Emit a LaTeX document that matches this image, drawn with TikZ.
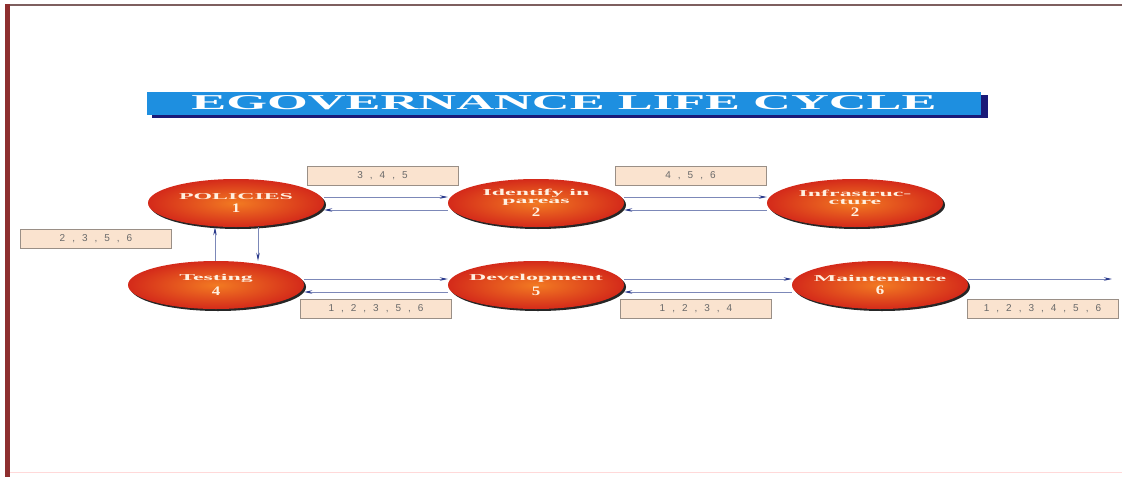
\documentclass[tikz,border=0pt]{standalone}
\usepackage{fontspec}
\usepackage{graphicx}
\setmainfont{Liberation Serif}
\newfontfamily\lblfont[LetterSpace=70]{Liberation Sans}
\usetikzlibrary{arrows.meta,shapes.geometric,shadows}
\definecolor{framered}{HTML}{8E2F2F}
\definecolor{topline}{HTML}{7E5F5F}
\definecolor{titleblue}{HTML}{1E8FE0}
\definecolor{navy}{HTML}{1A1A78}
\definecolor{ered}{HTML}{D42A1A}
\definecolor{eorange}{HTML}{F27A22}
\definecolor{etext}{HTML}{FFF0E0}
\definecolor{peach}{HTML}{FAE3CF}
\definecolor{boxline}{HTML}{9A8F86}
\definecolor{lbltext}{HTML}{6A6A6A}
\definecolor{linec}{HTML}{7C88B8}
\definecolor{tipc}{HTML}{2A3A8C}
\newcommand{\st}[1]{\makebox[0pt]{\scalebox{2.65}[1]{\fontsize{9}{9}\selectfont #1}}}
\newcommand{\dg}[1]{\scalebox{1.3}[1]{\fontsize{13}{13}\selectfont #1}}
\begin{document}
\begin{tikzpicture}[x=1pt,y=-1pt,
  stage/.style={ellipse, minimum width=176pt, minimum height=48pt, inner sep=0pt,
    shading=radial, inner color=eorange, outer color=ered, text=etext,
    align=center, font=\bfseries\fontsize{9}{8}\selectfont,
    general shadow={fill=black!85, shadow xshift=2pt, shadow yshift=-2pt}},
  lbl/.style={draw=boxline, fill=peach, line width=0.8pt, minimum width=151pt,
    minimum height=19pt, inner sep=0pt, text=lbltext, font=\lblfont\fontsize{10}{10}\selectfont},
  conn/.style={draw=linec, line width=0.8pt, -{Stealth[length=8pt,width=3.5pt,color=tipc]}}
]
\useasboundingbox (0,0) rectangle (1122,477);
\fill[white] (0,0) rectangle (1122,477);
% frame
\draw[framered, line width=5pt] (7.5,4) -- (7.5,477);
\draw[topline, line width=1.5pt] (10,5) -- (1122,5);
\draw[red!15, line width=1pt] (10,472) -- (1122,472);
% title
\fill[navy] (152,95) rectangle (988,118);
\node[fill=titleblue, minimum width=834pt, minimum height=23pt, inner sep=0pt,
  text=white, font=\bfseries] (title) at (564,103)
  {\resizebox{745pt}{14pt}{EGOVERNANCE LIFE CYCLE}};
% stages
\node[stage] (pol) at (236,203) {\st{POLICIES}\\[4pt]\dg{1}};
\node[stage] (id) at (536,203) {\st{Identify in}\\[0pt]\st{pareas}\\[2pt]\dg{2}};
\node[stage] (inf) at (855,203) {\st{Infrastruc-}\\[0pt]\st{cture}\\[2pt]\dg{2}};
\node[stage] (test) at (216,285) {\st{Testing}\\[4pt]\dg{4}};
\node[stage] (dev) at (536,285) {\st{Development}\\[4pt]\dg{5}};
\node[stage] (mnt) at (880,285) {\st{Maintenance}\\[4pt]\dg{6}};
\coordinate (out) at (1112,279);
% connectors
\draw[conn] ([yshift=6pt]pol.east) -- ([yshift=6pt]pol.east -| id.west);
\draw[conn] ([yshift=-7pt]id.west) -- ([yshift=-7pt]id.west -| pol.east);
\draw[conn] ([yshift=6pt]id.east) -- ([yshift=6pt]id.east -| inf.west);
\draw[conn] ([yshift=-7pt]inf.west) -- ([yshift=-7pt]inf.west -| id.east);
\draw[conn] ([yshift=6pt]test.east) -- ([yshift=6pt]test.east -| dev.west);
\draw[conn] ([yshift=-7pt]dev.west) -- ([yshift=-7pt]dev.west -| test.east);
\draw[conn] ([yshift=6pt]dev.east) -- ([yshift=6pt]dev.east -| mnt.west);
\draw[conn] ([yshift=-7pt]mnt.west) -- ([yshift=-7pt]mnt.west -| dev.east);
\draw[conn] ([yshift=6pt]mnt.east) -- (out);
\draw[conn] ([xshift=-1pt]test.north) -- ([xshift=-1pt]test.north |- pol.south);
\draw[conn] ([xshift=22pt]pol.south) -- ([xshift=22pt]pol.south |- test.north);
% labels
\node[lbl] (l1) at (382.5,175.5) {3,4,5};
\node[lbl] (l2) at (690.5,175.5) {4,5,6};
\node[lbl] (l3) at (96,238.5) {2,3,5,6};
\node[lbl] (l4) at (376,308.5) {1,2,3,5,6};
\node[lbl] (l5) at (696,308.5) {1,2,3,4};
\node[lbl] (l6) at (1042.5,308.5) {1,2,3,4,5,6};
\end{tikzpicture}
\end{document}
